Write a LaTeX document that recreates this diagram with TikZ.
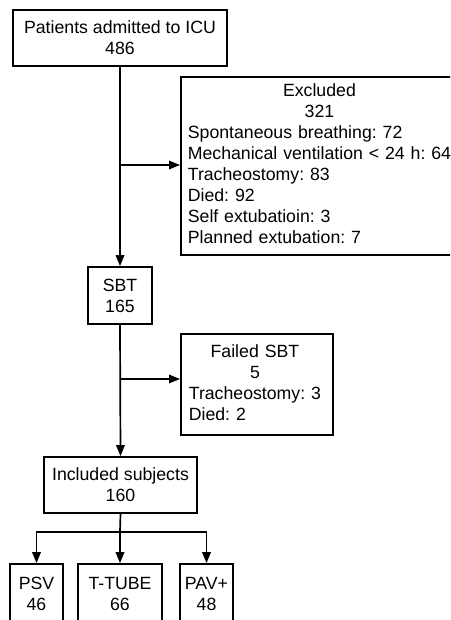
\documentclass[tikz,border=0pt]{standalone}
\usepackage{fontspec}
\setmainfont{Liberation Sans}
\usetikzlibrary{arrows.meta}
\frenchspacing
\begin{document}
\begin{tikzpicture}[x=1pt,y=-1pt,
  box/.style={draw,line width=1.7pt,inner sep=0pt,align=center,
    font=\fontsize{17.7}{21}\selectfont\frenchspacing},
  listbox/.style={draw,line width=1.7pt,align=left,inner ysep=5pt,
    font=\fontsize{17.7}{21}\selectfont\frenchspacing},
  conn/.style={line width=1.7pt},
  arr/.style={line width=1.7pt,-{Triangle[length=11pt,width=8.5pt]}}]
\useasboundingbox (0,0) rectangle (450,620);
\clip (0,0) rectangle (450,620);
\node[box,minimum width=214pt,minimum height=56pt] (top) at (120,38) {Patients admitted to ICU\\486};
\node[listbox,anchor=north west,inner xsep=7pt,text width=275pt] (excl) at (180,76)
  {\renewcommand\arraystretch{1}\begin{tabular}{@{}l@{}}
   \multicolumn{1}{@{}c@{}}{Excluded}\\
   \multicolumn{1}{@{}c@{}}{321}\\
   Spontaneous breathing: 72\\
   Mechanical ventilation < 24 h: 64\\
   Tracheostomy: 83\\
   Died: 92\\
   Self extubatioin: 3\\
   Planned extubation: 7
   \end{tabular}};
\node[box,minimum width=64pt,minimum height=57pt] (sbt) at (120,295.5) {SBT\\165};
\node[listbox,anchor=north west,inner xsep=8pt,inner ysep=8.5pt,text width=136pt] (fail) at (180,333)
  {\renewcommand\arraystretch{1}\begin{tabular}{@{}l@{}}
   \multicolumn{1}{@{}c@{}}{Failed SBT}\\
   \multicolumn{1}{@{}c@{}}{5}\\
   Tracheostomy: 3\\
   Died: 2
   \end{tabular}};
\node[box,minimum width=153pt,minimum height=56pt] (incl) at (120.5,485) {Included subjects\\160};
\node[box,minimum width=53pt,minimum height=59pt] (psv) at (36.5,593.5) {PSV\\46};
\node[box,minimum width=84pt,minimum height=59pt] (ttube) at (120,593.5) {T-TUBE\\66};
\node[box,minimum width=53pt,minimum height=59pt] (pav) at (206.5,593.5) {PAV+\\48};
\coordinate (b1) at (120,165);
\coordinate (b2) at (120,379);
\coordinate (split) at (120,532);
\draw[arr] (top.south) -- (sbt.north);
\draw[arr] (b1) -- (excl.west |- b1);
\draw[arr] (sbt.south) -- (incl.north);
\draw[arr] (b2) -- (fail.west |- b2);
\draw[conn] (incl.south) -- (split);
\draw[arr] (split) -| (psv.north);
\draw[arr] (split) -- (ttube.north);
\draw[arr] (split) -| (pav.north);
\end{tikzpicture}
\end{document}
